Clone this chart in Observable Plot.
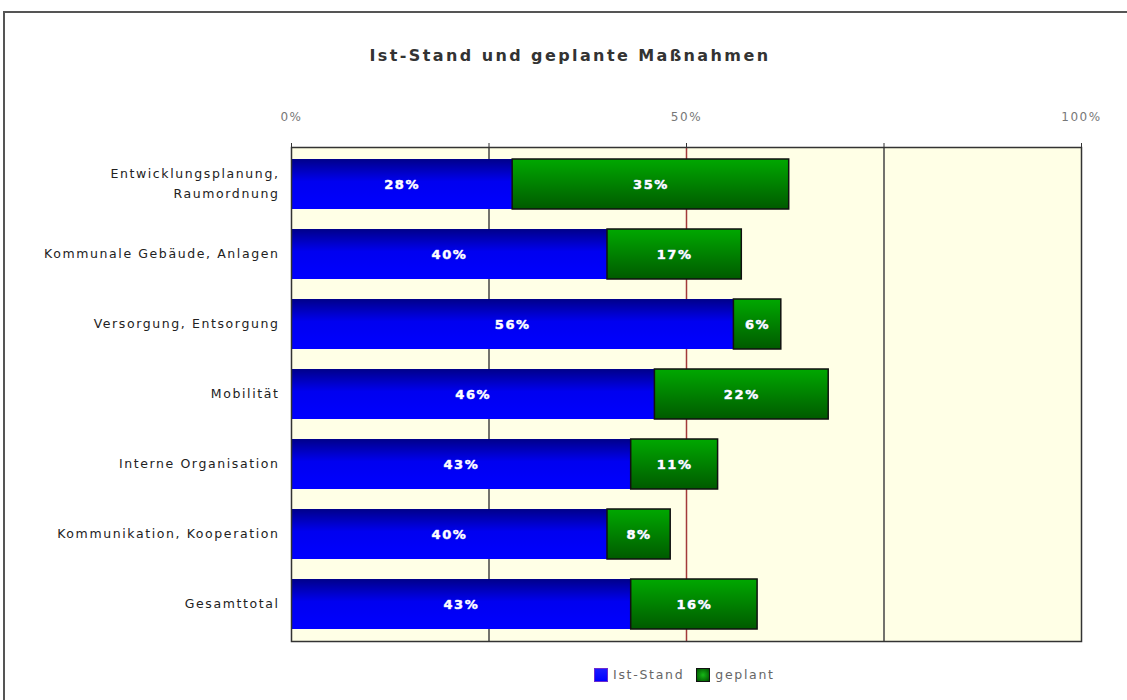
<!DOCTYPE html>
<html>
<head>
<meta charset="utf-8">
<script src="https://cdn.jsdelivr.net/npm/d3@7"></script>
<script src="https://cdn.jsdelivr.net/npm/@observablehq/plot@0.6"></script>
<style>
  html, body { margin: 0; padding: 0; background: #fff; }
  body { width: 1127px; height: 700px; position: relative; overflow: hidden; font-family: "DejaVu Sans", Verdana, sans-serif; }
  #frame { position: absolute; left: 3px; top: 11px; width: 1140px; height: 720px; border-top: 2px solid #555; border-left: 2px solid #555; box-sizing: border-box; }
  #title { position: absolute; left: 0; width: 1140px; top: 46px; text-align: center; font-weight: bold; font-size: 16px; letter-spacing: 2.4px; color: #333; }
  #chart { position: absolute; left: 0; top: 0; }
  #legend { position: absolute; top: 667px; left: 594px; font-size: 12.5px; color: #666; letter-spacing: 1.7px; display: flex; align-items: center; }
  .sw { width: 14px; height: 14px; display: inline-block; margin-right: 5px; box-sizing: border-box; }
</style>
</head>
<body>
<div id="frame"></div>
<div id="title">Ist-Stand und geplante Maßnahmen</div>
<div id="chart"></div>
<div id="legend"></div>
<script>
const categories = [
  "Entwicklungsplanung,\nRaumordnung",
  "Kommunale Gebäude, Anlagen",
  "Versorgung, Entsorgung",
  "Mobilität",
  "Interne Organisation",
  "Kommunikation, Kooperation",
  "Gesamttotal"
];
const seriesNames = ["Ist-Stand", "geplant"];
const istStand = [28, 40, 56, 46, 43, 40, 43];
const geplant  = [35, 17, 6, 22, 11, 8, 16];
const xTicks = [0, 25, 50, 75, 100];
const xLabelTicks = [0, 50, 100];

const data = [];
categories.forEach((c, i) => {
  data.push({cat: c, series: seriesNames[0], value: istStand[i]});
  data.push({cat: c, series: seriesNames[1], value: geplant[i]});
});

const plot = Plot.plot({
  width: 1127,
  height: 700,
  marginLeft: 291,
  marginRight: 46,
  marginTop: 147,
  marginBottom: 59,
  style: {fontFamily: "DejaVu Sans, Verdana, sans-serif", background: "transparent"},
  x: {domain: [0, 100]},
  y: {domain: categories, paddingInner: 0.29, paddingOuter: 0.13},
  color: {domain: seriesNames, range: ["url(#gBlue)", "url(#gGreen)"]},
  opacity: {type: "identity"},
  marks: [
    Plot.frame({fill: "#ffffe6", stroke: "none"}),
    Plot.ruleX([25, 75], {stroke: "#444", strokeWidth: 1.5}),
    Plot.ruleX([50], {stroke: "#a33a3a", strokeWidth: 1.5}),
    Plot.barX(data, Plot.stackX({
      x: "value", y: "cat", fill: "series",
      stroke: "#111", strokeWidth: 1.5,
      strokeOpacity: d => d.series === "geplant" ? 1 : 0,
      inset: 0
    })),
    Plot.text(data, Plot.stackX({
      x: "value", y: "cat", text: d => d.value + "%",
      fill: "white", fontWeight: "bold", fontSize: 13,
      stroke: "#c8c8ff", strokeWidth: 0.6
    })),
    Plot.axisX({
      anchor: "top", ticks: xTicks, tickSize: 5, tickPadding: 22,
      tickFormat: d => xLabelTicks.includes(d) ? d + "%" : "",
      fontSize: 12, fill: "#777", stroke: "#333", label: null,
      letterSpacing: "1.5px"
    }),
    Plot.axisY({
      anchor: "left", tickSize: 0, tickPadding: 12, fontSize: 12.5,
      lineHeight: 1.6, fill: "#222", label: null, dy: -3
    }),
    Plot.frame({stroke: "#333", strokeWidth: 1.5})
  ]
});

const defs = document.createElementNS("http://www.w3.org/2000/svg", "defs");
defs.innerHTML = `
  <linearGradient id="gBlue" x1="0" y1="0" x2="0" y2="1">
    <stop offset="0" stop-color="#00008a"/>
    <stop offset="0.45" stop-color="#0000f0"/>
    <stop offset="1" stop-color="#0000ff"/>
  </linearGradient>
  <linearGradient id="gGreen" x1="0" y1="0" x2="0" y2="1">
    <stop offset="0" stop-color="#00a800"/>
    <stop offset="1" stop-color="#005a00"/>
  </linearGradient>`;
plot.insertBefore(defs, plot.firstChild);
plot.style.letterSpacing = "1.6px";
document.getElementById("chart").appendChild(plot);

const legend = document.getElementById("legend");
const swStyles = [
  "background: linear-gradient(#1a1aff,#0000ff); border: 1px solid #6b2bd0;",
  "background: radial-gradient(#16b816,#005000); border: 1.5px solid #111;"
];
seriesNames.forEach((s, i) => {
  const sw = document.createElement("span");
  sw.className = "sw";
  sw.style.cssText = swStyles[i];
  const t = document.createElement("span");
  t.textContent = s;
  t.style.marginRight = i === 0 ? "12px" : "0";
  legend.appendChild(sw);
  legend.appendChild(t);
});
</script>
</body>
</html>
